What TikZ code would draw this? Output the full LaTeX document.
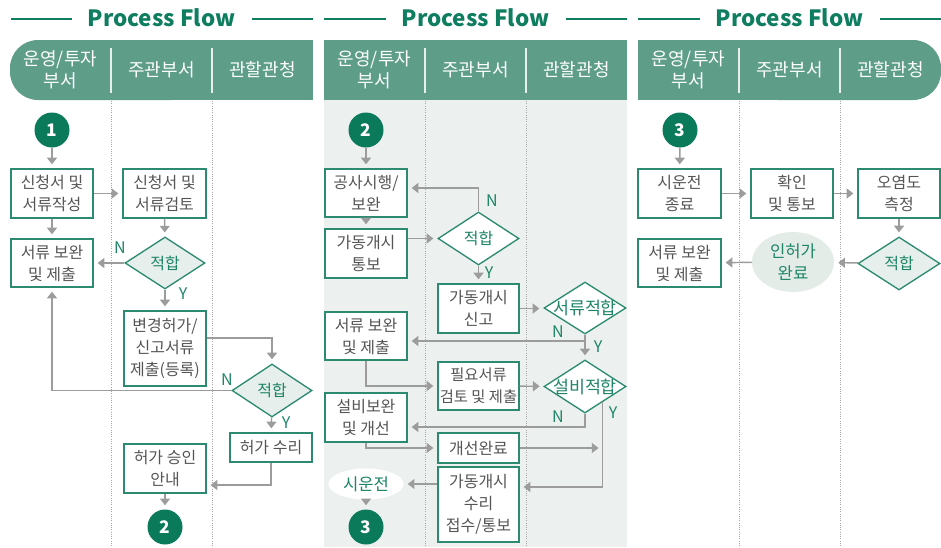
\documentclass[tikz,border=0pt]{standalone}
\usepackage{fontspec}
\setmainfont{Noto Sans CJK KR}
\usetikzlibrary{arrows.meta,shapes.geometric,calc}
\newdimen\px \px=0.75pt
\definecolor{titlec}{HTML}{0F7D60}
\definecolor{hdrc}{HTML}{5E9E89}
\definecolor{circc}{HTML}{0B7A5A}
\definecolor{boxc}{HTML}{2B8A6F}
\definecolor{textc}{HTML}{555555}
\definecolor{gtext}{HTML}{1E8567}
\definecolor{diafill}{HTML}{E6EFEB}
\definecolor{bgtwo}{HTML}{ECF1EF}
\definecolor{arrc}{HTML}{9C9C9C}
\definecolor{dotc}{HTML}{A8A8A8}
\definecolor{ellfill}{HTML}{E4ECE8}
\tikzset{
  every node/.style={font=\fontsize{12}{16.5}\selectfont, text=textc},
  box/.style 2 args={draw=boxc, line width=1pt, fill=white, minimum width=#1\px, minimum height=#2\px, inner sep=0pt, align=center},
  dia/.style 2 args={shape=diamond, draw=boxc, line width=1pt, fill=diafill, minimum width=#1\px, minimum height=#2\px, inner sep=0pt, text=gtext, font=\fontsize{12}{12}\selectfont},
  ell/.style 2 args={shape=ellipse, draw=none, minimum width=#1\px, minimum height=#2\px, inner sep=0pt, align=center, text=gtext, font=\fontsize{12.5}{16.5}\selectfont},
  circ/.style={circle, fill=circc, minimum size=35\px, inner sep=0pt, text=white, font=\bfseries\fontsize{13}{13}\selectfont},
  yn/.style={text=gtext, font=\fontsize{12}{12}\selectfont, inner sep=0pt},
  hdrtxt/.style={text=white, align=center, font=\fontsize{13.5}{16.5}\selectfont},
  ttl/.style={text=titlec, font=\bfseries\fontsize{16.8}{18}\selectfont},
  ttlline/.style={draw=titlec, line width=1pt},
  divline/.style={draw=white!85!hdrc, line width=1.1pt},
  lane/.style={draw=dotc, densely dotted, line width=0.7pt},
  arr/.style={draw=arrc, line width=1.1pt, -{Triangle[length=5pt,width=7.5pt]}, shorten >=3pt},
}
\begin{document}
\begin{tikzpicture}[x=0.75pt,y=-0.75pt]
\useasboundingbox (0,0) rectangle (941,547);
% panel 2 background
\fill[bgtwo] (324,100) rectangle (627,547);
% headers
\fill[hdrc, rounded corners=21pt] (10,40) rectangle (200,100);
\fill[hdrc] (100,40) rectangle (313,100);
\fill[hdrc] (324,40) rectangle (627,100);
\fill[hdrc] (638,40) rectangle (850,100);
\fill[hdrc, rounded corners=21pt] (750,40) rectangle (941,100);
% header dividers and lane lines
\foreach \x in {111,212,425,526,739,840}{
  \draw[divline] (\x,48) -- (\x,93);
  \draw[lane] (\x,101) -- (\x,547);
}
% titles
\node[ttl] (t1) at (161.5,18) {Process Flow};
\node[ttl] (t2) at (475.5,18) {Process Flow};
\node[ttl] (t3) at (789.5,18) {Process Flow};
\draw[ttlline] (11,19) -- (72,19);
\draw[ttlline] (252,19) -- (313,19);
\draw[ttlline] (324,19) -- (386,19);
\draw[ttlline] (566,19) -- (627,19);
\draw[ttlline] (638,19) -- (700,19);
\draw[ttlline] (880,19) -- (941,19);
% header texts
\node[hdrtxt] (h11) at (60.5,70) {운영/투자\\부서};
\node[hdrtxt] (h12) at (161.5,70) {주관부서};
\node[hdrtxt] (h13) at (262.5,70) {관할관청};
\node[hdrtxt] (h21) at (374.5,70) {운영/투자\\부서};
\node[hdrtxt] (h22) at (475.5,70) {주관부서};
\node[hdrtxt] (h23) at (576.5,70) {관할관청};
\node[hdrtxt] (h31) at (688.5,70) {운영/투자\\부서};
\node[hdrtxt] (h32) at (789.5,70) {주관부서};
\node[hdrtxt] (h33) at (890.5,70) {관할관청};

% ---------- panel 1 ----------
\node[circ] (c1) at (52,130) {1};
\node[box={82}{49}] (a1) at (52,193.5) {신청서 및\\서류작성};
\node[box={83}{49}] (a2) at (164.5,193.5) {신청서 및\\서류검토};
\node[box={82}{48}] (a3) at (52,263) {서류 보완\\및 제출};
\node[dia={80}{52}] (d1) at (165,263) {\makebox[0pt]{적합}};
\node[box={82}{75}] (a4) at (165,348.5) {변경허가/\\신고서류\\제출(등록)};
\node[dia={80}{53}] (d2) at (272,390.5) {\makebox[0pt]{적합}};
\node[box={82}{29}] (a5) at (271,447.5) {허가 수리};
\node[box={82}{49}] (a6) at (165,468.5) {허가 승인\\안내};
\node[circ] (c2) at (165,527) {2};
\node[yn] (n1) at (120,248) {N};
\node[yn] (y1) at (183,294) {Y};
\node[yn] (n2) at (227,380) {N};
\node[yn] (y2) at (286,423) {Y};

\draw[arr] (c1) -- (a1);
\draw[arr] (a1) -- (a2);
\draw[arr] (a1) -- (a3);
\draw[arr] (a2) -- (d1);
\draw[arr] (d1) -- (a3);
\draw[arr] (d1) -- (a4);
\draw[arr] (a4.east |- 0,338) -| (d2.north);
\draw[arr] (d2.west) -| (a3.south);
\draw[arr] (d2) -- (a5);
\draw[arr] (a5.south) |- (a6.east |- 0,485);
\draw[arr] (a6) -- (c2);

% ---------- panel 2 ----------
\node[circ] (c3) at (366,130) {2};
\node[box={82}{48}] (b1) at (366,193) {공사시행/\\보완};
\node[box={82}{49}] (b2) at (366,253.5) {가동개시\\통보};
\node[dia={81}{53}, fill=white] (e1) at (478.5,238.5) {\makebox[0pt]{적합}};
\node[box={81}{49}] (b3) at (478.5,308.5) {가동개시\\신고};
\node[dia={82}{52}, fill=white, font=\fontsize{13}{13}\selectfont] (e2) at (585,308) {\makebox[0pt]{서류적합}};
\node[dia={82}{53}, fill=white, font=\fontsize{13}{13}\selectfont] (e3) at (585,386.5) {\makebox[0pt]{설비적합}};
\node[box={82}{48}] (b4) at (366,336) {서류 보완\\및 제출};
\node[box={81}{48}, font=\fontsize{11.5}{16.5}\selectfont] (b5) at (478.5,386) {필요서류\\검토 및 제출};
\node[box={82}{49}] (b6) at (366,417.5) {설비보완\\및 개선};
\node[box={81}{30}] (b7) at (478.5,448) {개선완료};
\node[box={81}{75}] (b8) at (478.5,504.5) {가동개시\\수리\\접수/통보};
\node[ell={75}{31}, fill=white] (s1) at (366,484) {시운전};
\node[circ] (c4) at (366,527) {3};
\node[yn] (n3) at (492,201) {N};
\node[yn] (y3) at (489,273) {Y};
\node[yn] (n4) at (558,332) {N};
\node[yn] (y4) at (598,347) {Y};
\node[yn] (n5) at (558,417) {N};
\node[yn] (y5) at (613,413) {Y};

\draw[arr] (c3) -- (b1);
\draw[arr] (b1) -- (b2);
\draw[arr] (b2.east |- e1.west) -- (e1.west);
\draw[arr] (e1.north) |- (b1.east |- 0,188);
\draw[arr] (e1) -- (b3);
\draw[arr] (b3.east) -- (b3.east -| e2.west);
\draw[arr] (e2) -- (e3);
\draw[arr] (e2.south) |- (b4.east |- 0,341);
\draw[arr] (b4.south) |- (b5.west);
\draw[arr] (b5) -- (e3);
\draw[arr] (e3.south) |- (b6.east |- 0,427);
\coordinate (ey) at ($(e3.south)!0.42!(e3.east)$);
\draw[arr] (ey) |- (b8.east |- 0,487);
\draw[arr] (b6.south) |- (b7.west);
\draw[arr] (b7.east) -- (ey |- b7.east);
\draw[arr] (b8.west |- s1.east) -- (s1.east);
\draw[arr] (s1) -- (c4);

% ---------- panel 3 ----------
\node[circ] (c5) at (680,130) {3};
\node[box={83}{49}] (f1) at (679.5,193.5) {시운전\\종료};
\node[box={82}{49}] (f2) at (792,193.5) {확인\\및 통보};
\node[box={82}{49}] (f3) at (899,193.5) {오염도\\측정};
\node[dia={82}{53}] (g1) at (899,263.5) {\makebox[0pt]{적합}};
\node[ell={82}{60}, fill=ellfill] (s2) at (793,262) {인허가\\완료};
\node[box={83}{48}] (f4) at (679.5,263) {서류 보완\\및 제출};

\draw[arr] (c5) -- (f1);
\draw[arr] (f1) -- (f2);
\draw[arr] (f2) -- (f3);
\draw[arr] (f3) -- (g1);
\draw[arr] (g1) -- (s2);
\draw[arr] (s2) -- (f4);
\end{tikzpicture}
\end{document}
